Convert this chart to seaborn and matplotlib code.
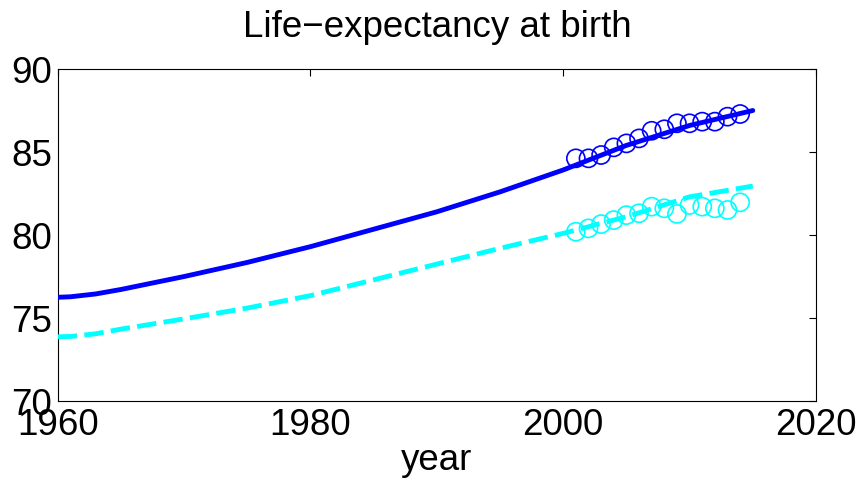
import matplotlib
matplotlib.use("Agg")
import matplotlib.pyplot as plt
import seaborn as sns

# ---------------------------------------------------------
# Data
# ---------------------------------------------------------

trend_years = [1960, 1961, 1963, 1965, 1970, 1975, 1980, 1985, 1990,
               1995, 2000, 2005, 2010, 2015]
female_trend = [76.25, 76.28, 76.45, 76.72, 77.5, 78.35, 79.3, 80.35,
                81.4, 82.6, 83.92, 85.4, 86.6, 87.5]
male_trend = [73.87, 73.89, 74.05, 74.33, 74.95, 75.6, 76.35, 77.3,
              78.25, 79.2, 80.1, 81.1, 82.3, 82.95]

obs_years = list(range(2001, 2015))
female_obs = [84.62, 84.62, 84.82, 85.28, 85.52, 85.82, 86.28, 86.37,
              86.73, 86.73, 86.83, 86.83, 87.13, 87.29]
male_obs = [80.20, 80.40, 80.66, 80.90, 81.20, 81.31, 81.71, 81.61,
            81.27, 81.81, 81.71, 81.61, 81.51, 81.97]

BLUE = "#0000ff"
CYAN = "#00ffff"

# ---------------------------------------------------------
# Style
# ---------------------------------------------------------

sns.set_style("white")
plt.rcParams["font.family"] = ["Liberation Sans", "DejaVu Sans"]
plt.rcParams["text.color"] = "black"
plt.rcParams["axes.labelcolor"] = "black"

fig, ax = plt.subplots(figsize=(8.61, 4.78), dpi=100)
fig.subplots_adjust(left=0.067, right=0.9477, top=0.8556, bottom=0.161)

# ---------------------------------------------------------
# Plot
# ---------------------------------------------------------

sns.scatterplot(x=obs_years, y=female_obs, ax=ax, marker="o", s=170,
                facecolor="none", edgecolor=BLUE, linewidth=1.2, zorder=2)
sns.scatterplot(x=obs_years, y=male_obs, ax=ax, marker="o", s=170,
                facecolor="none", edgecolor=CYAN, linewidth=1.2, zorder=2)

sns.lineplot(x=trend_years, y=female_trend, ax=ax, color=BLUE,
             linewidth=3.5, zorder=3)
sns.lineplot(x=trend_years, y=male_trend, ax=ax, color=CYAN,
             linewidth=3.5, zorder=3)
ax.lines[-1].set_dashes((4.0, 1.5))

ax.set_xlim(1960, 2020)
ax.set_ylim(70, 90)
ax.set_xticks([1960, 1980, 2000, 2020])
ax.set_yticks([70, 75, 80, 85, 90])

ax.tick_params(direction="in", length=5, width=0.8, labelsize=26.5,
               top=True, right=True, colors="black")
ax.tick_params(axis="y", pad=4)
ax.tick_params(axis="x", pad=5)

for spine in ax.spines.values():
    spine.set_visible(True)
    spine.set_color("black")
    spine.set_linewidth(0.8)

ax.set_title("Life\u2212expectancy at birth", fontsize=26.5, pad=23,
             color="black")
ax.set_xlabel("year", fontsize=26.5, labelpad=0)
ax.set_ylabel("")

plt.savefig("out.png", dpi=100)
